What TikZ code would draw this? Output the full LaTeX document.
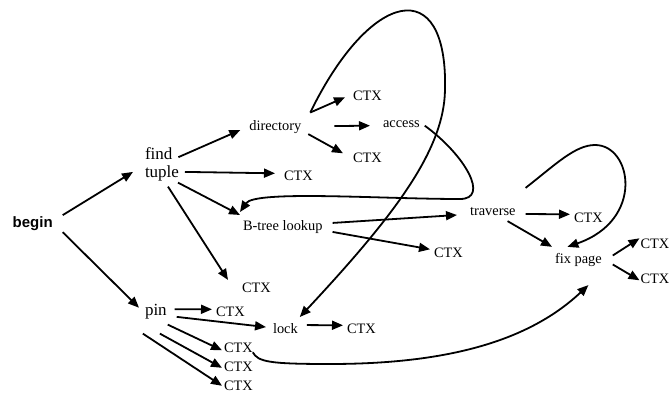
\documentclass[tikz,border=0pt]{standalone}
\usepackage{fontspec}
\setmainfont{Liberation Serif}
\newfontfamily\labelsans{Liberation Sans}
\usetikzlibrary{arrows.meta,calc}
\begin{document}
\begin{tikzpicture}[x=1pt,y=-1pt,
  lbl/.style={inner sep=0pt,outer sep=0pt,anchor=base west,font=\fontsize{14.4}{16}\selectfont},
  biglbl/.style={lbl,font=\fontsize{17}{19}\selectfont},
  beginlbl/.style={lbl,font=\labelsans\bfseries\fontsize{15}{17}\selectfont},
  arr/.style={line width=1.8pt,-{Triangle[length=11pt,width=9pt]}},
]
\useasboundingbox (0,0) rectangle (670,396);

% labels
\node[beginlbl] (begin) at (12.7,227) {begin};
\node[biglbl] (find)  at (145,159) {find};
\node[biglbl] (tuple) at (145,177) {tuple};
\node[biglbl] (pin)   at (145,315) {pin};
\node[lbl] (dir)    at (249.3,130.5) {directory};
\node[lbl] (ctxda)  at (353,100) {CTX};
\node[lbl] (access) at (383,128) {access};
\node[lbl] (ctxdb)  at (353,162) {CTX};
\node[lbl] (ctxt)   at (284,180) {CTX};
\node[lbl] (btree)  at (243,230) {B-tree lookup};
\node[lbl] (ctxb)   at (434,257) {CTX};
\node[lbl] (ctxtb)  at (242,292) {CTX};
\node[lbl] (trav)   at (470,215) {traverse};
\node[lbl] (ctxtr)  at (574,222) {CTX};
\node[lbl] (fix)    at (555,263) {fix page};
\node[lbl] (ctxfa)  at (640.5,248) {CTX};
\node[lbl] (ctxfb)  at (640.5,283) {CTX};
\node[lbl] (ctxp)   at (216,316) {CTX};
\node[lbl] (lock)   at (273,333) {lock};
\node[lbl] (ctxl)   at (347,333) {CTX};
\node[lbl] (ctxpa)  at (224,352) {CTX};
\node[lbl] (ctxpb)  at (224,371) {CTX};
\node[lbl] (ctxpc)  at (224,390) {CTX};

% straight connectors
\draw[arr] ($(begin.north east)+(10,-1)$) -- ($(tuple.west)+(-12,-1)$);
\draw[arr] ($(begin.south east)+(10,2)$) -- ($(pin.north west)+(-6,4)$);
\draw[arr] ($(find.south east)+(6,-2)$) -- ($(dir.west)+(-9,3)$);
\draw[arr] ($(tuple.east)+(6,-1)$) -- ($(ctxt.west)+(-9,-2)$);
\draw[arr] ($(dir.north east)+(9,-8)$) -- ($(ctxda.west)+(-8,2)$);
\draw[arr] ($(dir.east)+(33,-1)$) -- ($(access.west)+(-13,1)$);
\draw[arr] ($(dir.south east)+(7,0.5)$) -- ($(ctxdb.west)+(-10,-4)$);
\draw[arr] ($(tuple.south east)+(-1,2)$) -- ($(btree.north west)+(-3,-5)$);
\draw[arr] ($(tuple.south)+(6,6)$) -- ($(ctxtb.north west)+(-14,-2.5)$);
\draw[arr] ($(btree.east)+(10,-3.6)$) -- ($(trav.west)+(-13,4)$);
\draw[arr] ($(btree.east)+(10,5.4)$) -- ($(ctxb.west)+(-4,-3)$);
\draw[arr] ($(trav.east)+(10,3)$) -- ($(ctxtr.west)+(-4,-3)$);
\draw[arr] ($(trav.south east)+(-8,6)$) -- ($(fix.north west)+(-3,-6)$);
\draw[arr] ($(fix.east)+(11,-4)$) -- ($(ctxfa.west)+(-1,-5)$);
\draw[arr] ($(fix.east)+(11,5)$) -- ($(ctxfb.west)+(-1,2)$);
\draw[arr] ($(pin.east)+(8,-2)$) -- ($(ctxp.west)+(-4,-2)$);
\draw[arr] ($(pin.east)+(10,5.7)$) -- ($(lock.west)+(-7,-1)$);
\draw[arr] ($(lock.east)+(9,-3)$) -- ($(ctxl.west)+(-4,-3)$);
\draw[arr] ($(pin.south east)+(1,6)$) -- ($(ctxpa.west)+(-2,3)$);
\draw[arr] ($(pin.south)+(4,15)$) -- ($(ctxpb.west)+(-2,1.5)$);
\draw[arr] ($(pin.south)+(-13,15)$) -- ($(ctxpc.west)+(-2,0.5)$);

% curved connectors
\draw[arr] ($(dir.north east)+(9,-8)$)
  .. controls (370,-10) and (448,-28) .. (445,90)
  .. controls (444,150) and (395,215) .. ($(lock.north east)+(2,-6)$);
\draw[arr] ($(access.east)+(5,1)$)
  .. controls (465,155) and (490,199) .. (460,199)
  .. controls (380,199) and (255,190) .. ($(btree.north west)+(-3,-8)$);
\draw[arr] ($(trav.north east)+(10,-19)$)
  .. controls (555,165) and (575,145) .. (595,145)
  .. controls (632,145) and (645,220) .. ($(fix.north)+(-11,-6)$);
\draw[arr] ($(ctxpa.east)+(0,5)$)
  .. controls (258,362) and (270,364) .. (330,364)
  .. controls (450,364) and (530,340) .. ($(fix.south)+(10,19)$);
\end{tikzpicture}
\end{document}
